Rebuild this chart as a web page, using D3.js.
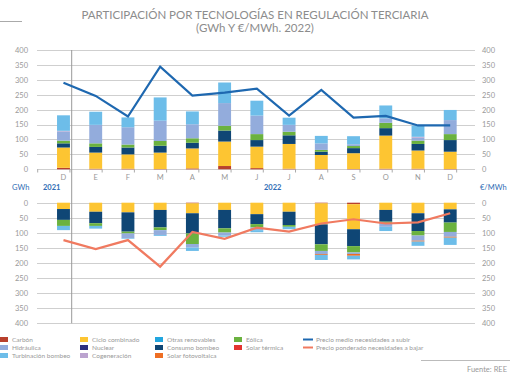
<!DOCTYPE html>
<html>
<head>
<meta charset="utf-8">
<script src="https://cdn.jsdelivr.net/npm/d3@7"></script>
<style>
  body { margin: 0; background: #fff; }
  text { font-family: Lato, "Open Sans", sans-serif; }
</style>
</head>
<body>
<script>
const months = ["D", "E", "F", "M", "A", "M", "J", "J", "A", "S", "O", "N", "D"]
const ticks = [0, 50, 100, 150, 200, 250, 300, 350, 400]

// GWh, necesidades a subir (stacked upward)
const upCarbon      = [5, 2, 2, 1, 3, 11, 4, 2, 1, 1, 2, 2, 1]
const upCiclo       = [68, 54, 48, 55, 67, 82, 72, 83, 47, 53, 111, 61, 58]
const upConsumo     = [14, 19, 23, 23, 19, 37, 22, 29, 11, 17, 25, 22, 39]
const upEolica      = [9, 12, 10, 16, 15, 16, 20, 12, 6, 7, 18, 11, 20]
const upHidraulica  = [31, 62, 58, 68, 47, 76, 62, 23, 22, 6, 15, 10, 47]
const upCogen       = [2, 0, 0, 0, 0, 0, 0, 0, 0, 0, 0, 3, 0]
const upTurbinacion = [52, 44, 33, 78, 43, 69, 50, 24, 25, 27, 43, 38, 34]

// GWh, necesidades a bajar (stacked downward)
const dnCarbon      = [0, 0, 0, 0, 2, 0, 0, 0, 2, 5, 0, 0, 0]
const dnCiclo       = [21, 30, 32, 24, 33, 24, 38, 30, 70, 83, 24, 35, 22]
const dnConsumo     = [36, 38, 64, 58, 67, 61, 33, 44, 66, 56, 39, 59, 44]
const dnEolica      = [20, 9, 6, 9, 35, 14, 11, 6, 22, 21, 4, 15, 31]
const dnHidraulica  = [0, 0, 16, 16, 12, 10, 9, 0, 10, 5, 13, 17, 16]
const dnSolarFv     = [0, 0, 0, 0, 0, 0, 0, 0, 3, 6, 0, 3, 3]
const dnTurbinacion = [14, 9, 2, 3, 11, 4, 7, 8, 17, 12, 14, 14, 24]

// €/MWh
const precioSubir = [290, 246, 177, 344, 247, 257, 270, 180, 266, 173, 179, 147, 147]
const precioBajar = [124, 154, 124, 212, 97, 120, 83, 96, 69, 55, 69, 65, 35]

const colors = {
  carbon: "#b8402c",
  hidraulica: "#93acdc",
  turbinacion: "#6dbde9",
  ciclo: "#fdc532",
  nuclear: "#2d2f7e",
  cogen: "#bba3cf",
  otras: "#22a6df",
  consumo: "#0f4675",
  solarFv: "#ee6e23",
  eolica: "#6bb23f",
  solarTerm: "#e3342f",
  subir: "#1e68b0",
  bajar: "#f07a60"
}

const legend = [
  ["Carbón", "carbon"], ["Hidráulica", "hidraulica"], ["Turbinación bombeo", "turbinacion"],
  ["Ciclo combinado", "ciclo"], ["Nuclear", "nuclear"], ["Cogeneración", "cogen"],
  ["Otras renovables", "otras"], ["Consumo bombeo", "consumo"], ["Solar fotovoltaica", "solarFv"],
  ["Eólica", "eolica"], ["Solar térmica", "solarTerm"],
  ["Precio medio necesidades a subir", "subir"], ["Precio ponderado necesidades a bajar", "bajar"]
]

const upSeries = [
  ["carbon", upCarbon], ["ciclo", upCiclo], ["consumo", upConsumo], ["eolica", upEolica],
  ["hidraulica", upHidraulica], ["cogen", upCogen], ["turbinacion", upTurbinacion]
]
const dnSeries = [
  ["carbon", dnCarbon], ["ciclo", dnCiclo], ["consumo", dnConsumo], ["eolica", dnEolica],
  ["hidraulica", dnHidraulica], ["solarFv", dnSolarFv], ["turbinacion", dnTurbinacion]
]

const width = 510, height = 382
const svg = d3.select("body").append("svg")
  .attr("width", width).attr("height", height)

const grey = "#8c8c8c"

// title
svg.append("line").attr("x1", 0).attr("x2", 22).attr("y1", 21.5).attr("y2", 21.5)
  .attr("stroke", "#aaa")
svg.append("text").attr("x", 255).attr("y", 19).attr("text-anchor", "middle")
  .attr("font-size", 11.5).attr("fill", grey)
  .text("PARTICIPACIÓN POR TECNOLOGÍAS EN REGULACIÓN TERCIARIA")
svg.append("text").attr("x", 255).attr("y", 32).attr("text-anchor", "middle")
  .attr("font-size", 11.5).attr("fill", grey)
  .text("(GWh Y €/MWh. 2022)")

const x = d3.scaleBand().domain(d3.range(months.length)).range([37.7, 476]).padding(0.6)
const yUp = d3.scaleLinear().domain([0, 400]).range([169.3, 50])
const yDn = d3.scaleLinear().domain([0, 400]).range([202.7, 323.3])

function grid(y) {
  svg.append("g").selectAll("line").data(ticks).join("line")
    .attr("x1", 37).attr("x2", 475)
    .attr("y1", d => Math.round(y(d)) + 0.5).attr("y2", d => Math.round(y(d)) + 0.5)
    .attr("stroke", "#cfcfcf")
  const left = svg.append("g").attr("transform", "translate(28,0)")
    .call(d3.axisLeft(y).tickValues(ticks).tickSize(0).tickPadding(0))
  const right = svg.append("g").attr("transform", "translate(482,0)")
    .call(d3.axisRight(y).tickValues(ticks).tickSize(0).tickPadding(0))
  for (const g of [left, right]) {
    g.select(".domain").remove()
    g.selectAll("text").attr("fill", "#999").attr("font-size", 7.5)
      .attr("font-family", "Lato, sans-serif")
  }
}
grid(yUp)
grid(yDn)

// month ticks and labels
const bounds = d3.range(months.length + 1).map(i => x.step() * i + 37.7)
svg.append("g").selectAll("line").data(bounds).join("line")
  .attr("x1", d => d).attr("x2", d => d).attr("y1", 169.3).attr("y2", 172.5)
  .attr("stroke", "#aaa")
svg.append("g").selectAll("text").data(months).join("text")
  .attr("x", (d, i) => x(i) + x.bandwidth() / 2).attr("y", 180)
  .attr("text-anchor", "middle").attr("font-size", 7.5).attr("fill", "#999")
  .text(d => d)

// stacked bars
function bars(series, y) {
  const g = svg.append("g")
  months.forEach((m, i) => {
    let acc = 0
    series.forEach(([key, vals]) => {
      const v = vals[i]
      if (v > 0) {
        const a = y(acc), b = y(acc + v)
        g.append("rect")
          .attr("x", x(i)).attr("width", x.bandwidth())
          .attr("y", Math.min(a, b)).attr("height", Math.abs(b - a))
          .attr("fill", colors[key])
      }
      acc += v
    })
  })
}
bars(upSeries, yUp)
bars(dnSeries, yDn)

// separator 2021 / 2022
svg.append("line").attr("x1", 71.7).attr("x2", 71.7).attr("y1", 50).attr("y2", 323.3)
  .attr("stroke", "#999")

// price lines
const cx = (d, i) => x(i) + x.bandwidth() / 2
svg.append("path").datum(precioSubir)
  .attr("d", d3.line().x(cx).y(d => yUp(d)))
  .attr("fill", "none").attr("stroke", colors.subir).attr("stroke-width", 2.2)
svg.append("path").datum(precioBajar)
  .attr("d", d3.line().x(cx).y(d => yDn(d)))
  .attr("fill", "none").attr("stroke", colors.bajar).attr("stroke-width", 2.2)

// unit and year labels
const blue = "#2f6db5"
svg.append("text").attr("x", 12).attr("y", 190).attr("font-size", 7.5).attr("fill", blue).text("GWh")
svg.append("text").attr("x", 43).attr("y", 190).attr("font-size", 7.5).attr("font-weight", "bold")
  .attr("fill", blue).text("2021")
svg.append("text").attr("x", 264).attr("y", 190).attr("font-size", 7.5).attr("font-weight", "bold")
  .attr("fill", blue).text("2022")
svg.append("text").attr("x", 480).attr("y", 190).attr("font-size", 7.5).attr("fill", blue).text("€/MWh")

// legend
const colX = [0, 80, 155, 234, 303]
const rowY = [342, 350, 358]
legend.forEach(([label, key], i) => {
  const col = i < 11 ? Math.floor(i / 3) : 4
  const row = i < 11 ? i % 3 : i - 11
  const lx = colX[col], ly = rowY[row]
  if (col === 4) {
    svg.append("line").attr("x1", lx).attr("x2", lx + 10).attr("y1", ly - 2.5).attr("y2", ly - 2.5)
      .attr("stroke", colors[key]).attr("stroke-width", 2)
  } else {
    svg.append("rect").attr("x", lx).attr("y", ly - 5).attr("width", 8).attr("height", 5)
      .attr("fill", colors[key])
  }
  svg.append("text").attr("x", lx + (col === 4 ? 13 : 12)).attr("y", ly)
    .attr("font-size", 6.5).attr("fill", "#999").text(label)
})

// source
svg.append("line").attr("x1", 421).attr("x2", 510).attr("y1", 360.5).attr("y2", 360.5)
  .attr("stroke", "#bbb")
svg.append("text").attr("x", 507).attr("y", 372).attr("text-anchor", "end")
  .attr("font-size", 7.5).attr("fill", "#999")
  .text("Fuente: REE")
</script>
</body>
</html>
